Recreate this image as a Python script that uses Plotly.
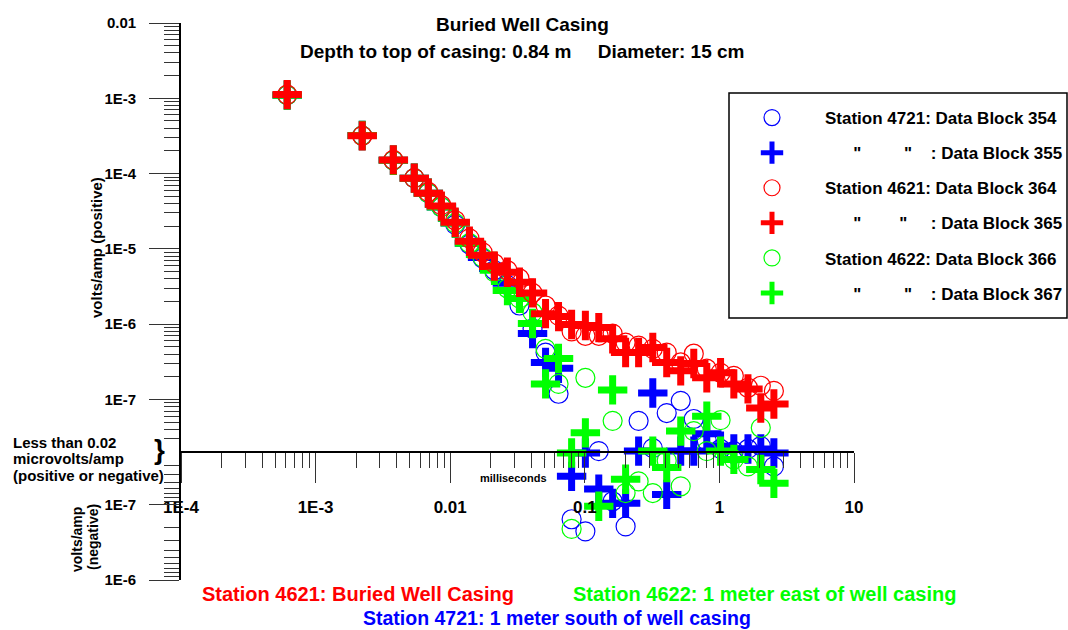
import math
import plotly.graph_objects as go

# ---------------- data (volts/amp, signed) ----------------
times_ms = [6.15e-4, 2.22e-3, 3.78e-3, 5.41e-3, 6.88e-3, 8.60e-3, 1.09e-2, 1.39e-2,
            1.74e-2, 2.13e-2, 2.66e-2, 3.27e-2, 4.09e-2, 5.11e-2, 6.38e-2, 7.98e-2,
            0.101, 0.127, 0.161, 0.201, 0.251, 0.320, 0.406, 0.516, 0.645, 0.806,
            1.02, 1.28, 1.63, 2.03, 2.54]

block354 = [1.1e-3, 3.2e-4, 1.5e-4, 8.7e-5, 5.5e-5, 3.6e-5, 2.1e-5, 1.15e-5, 7.5e-6,
            5.2e-6, 3.3e-6, 1.77e-6, 8.7e-7, 4.2e-7, 1.19e-7, -1.56e-7, -2.26e-7,
            2.06e-8, -9.0e-8, -1.94e-7, 5.2e-8, 2.26e-8, 6.6e-8, 9.6e-8, 5.5e-8,
            2.8e-8, 2.2e-8, 2.06e-8, 2.2e-8, 2.4e-8, -3.1e-8]
block355 = [1.1e-3, 3.2e-4, 1.5e-4, 8.7e-5, 5.5e-5, 3.6e-5, 2.2e-5, 1.19e-5, 7.7e-6,
            5.5e-6, 3.5e-6, 2.2e-6, 7.5e-7, 3.1e-7, 2.6e-7, -4.2e-8, -2.06e-8,
            -6.2e-8, -9.6e-8, -9.6e-8, 2.06e-8, 1.22e-7, -7.3e-8, 2.06e-8, 2.06e-8,
            3.5e-8, 2.4e-8, 2.2e-8, 2.2e-8, 2.2e-8, -2.06e-8]
block364 = [1.12e-3, 3.17e-4, 1.52e-4, 8.7e-5, 5.7e-5, 3.8e-5, 2.4e-5, 1.38e-5, 9.0e-6,
            6.4e-6, 5.2e-6, 4.05e-6, 2.6e-6, 1.77e-6, 1.3e-6, 8.0e-7, 7.0e-7, 7.0e-7,
            7.5e-7, 5.7e-7, 5.2e-7, 4.7e-7, 4.2e-7, 3.1e-7, 4.05e-7, 2.56e-7, 2.26e-7,
            2.06e-7, 1.43e-7, 1.52e-7, 1.3e-7]
block365 = [1.12e-3, 3.17e-4, 1.52e-4, 8.7e-5, 5.5e-5, 3.7e-5, 2.26e-5, 1.26e-5, 8.2e-6,
            5.9e-6, 4.9e-6, 3.6e-6, 2.6e-6, 1.38e-6, 1.26e-6, 9.9e-7, 9.6e-7, 9.0e-7,
            6.4e-7, 4.2e-7, 4.2e-7, 4.9e-7, 3.1e-7, 2.4e-7, 3.0e-7, 1.94e-7, 2.26e-7,
            1.61e-7, 1.38e-7, 7.7e-8, 8.7e-8]
block366 = [1.1e-3, 3.2e-4, 1.5e-4, 8.7e-5, 5.5e-5, 3.6e-5, 2.2e-5, 1.19e-5, 7.7e-6,
            4.9e-6, 3.0e-6, 2.2e-6, 1.43e-6, 4.7e-7, 1.61e-7, -2.1e-7, 1.94e-7, None,
            5.2e-8, -7.0e-8, -4.9e-8, -7.0e-8, -2.6e-8, -5.7e-8, 3.8e-8, 2.06e-8,
            5.3e-8, -2.5e-8, -3.1e-8, 4.2e-8, None]
block367 = [1.1e-3, 3.2e-4, 1.5e-4, 8.7e-5, 5.5e-5, 3.6e-5, 2.2e-5, 1.19e-5, 8.2e-6,
            5.2e-6, 2.8e-6, 2.2e-6, 1.02e-6, 1.61e-7, 3.5e-7, -2.06e-8, 3.6e-8,
            -1.05e-7, 1.34e-7, -4.6e-8, None, 2.06e-8, -3.2e-8, 3.8e-8, None, 6.0e-8,
            2.06e-8, -2.5e-8, None, -3.4e-8, -5.2e-8]

x_tick_vals = [1e-4, 1e-3, 1e-2, 1e-1, 1, 10]
x_tick_text = ["1E-4", "1E-3", "0.01", "0.1", "1", "10"]
y_tick_vals = [1e-2, 1e-3, 1e-4, 1e-5, 1e-6, 1e-7, -1e-7, -1e-6]
y_tick_text = ["0.01", "1E-3", "1E-4", "1E-5", "1E-6", "1E-7", "1E-7", "1E-6"]

THRESH = 2e-8   # "less than 0.02 microvolts/amp" band collapses onto the zero line

# ---------------- helpers ----------------
def sym(v):
    """signed log scale: decades above the 0.02 uV/A threshold"""
    if v is None:
        return None
    a = abs(v)
    d = math.log10(a / THRESH) if a > THRESH else 0.0
    return d if v >= 0 else -d

W, H = 1068, 630
ML, MR, MT, MB = 181, 214, 23, 50
PW, PH = W - ML - MR, H - MT - MB

def px(x):
    return (x - ML) / PW

def py(y):
    return (H - MB - y) / PH

FONT = "Liberation Sans, Arial, sans-serif"
BLUE, RED, GREEN = "#0000ff", "#ff0000", "#00ff00"
NB = "\u00a0"

y_lo, y_hi = sym(-1e-6), sym(1e-2)
zero_pos = (0 - y_lo) / (y_hi - y_lo)

# minor ticks
x_minor = [k * 10.0 ** n for n in range(-4, 1) for k in range(2, 10)]
y_minor = []
for n in range(-8, -2):
    for k in range(2, 10):
        v = k * 10.0 ** n
        if v > THRESH * 1.01:
            y_minor.append(sym(v))
for n in range(-8, -6):
    for k in range(2, 10):
        v = k * 10.0 ** n
        if v > THRESH * 1.01:
            y_minor.append(sym(-v))

fig = go.Figure()

ditto_a = NB * 6 + "\"" + NB * 9 + "\"" + NB * 4
ditto_b = NB * 6 + "\"" + NB * 8 + "\"" + NB * 5
series = [
    # (values, name, color, symbol, legendrank)  -- drawn bottom to top
    (block354, "Station 4721: Data Block 354", BLUE, "circle-open", 1),
    (block355, ditto_a + ": Data Block 355", BLUE, "cross", 2),
    (block366, "Station 4622: Data Block 366", GREEN, "circle-open", 5),
    (block367, ditto_a + ": Data Block 367", GREEN, "cross", 6),
    (block364, "Station 4621: Data Block 364", RED, "circle-open", 3),
    (block365, ditto_b + ": Data Block 365", RED, "cross", 4),
]

for vals, name, col, symb, rank in series:
    xs = [t for t, v in zip(times_ms, vals) if v is not None]
    ys = [sym(v) for v in vals if v is not None]
    if symb == "cross":
        marker = dict(symbol="cross-thin", size=21, color=col,
                      line=dict(color=col, width=7))
    else:
        marker = dict(symbol="circle-open", size=19, color=col,
                      line=dict(color=col, width=1.2))
    fig.add_trace(go.Scatter(x=xs, y=ys, mode="markers", name=name, marker=marker,
                             legendrank=rank, legendgroup=name, hoverinfo="skip"))

fig.update_layout(
    width=W, height=H,
    margin=dict(l=ML, r=MR, t=MT, b=MB, autoexpand=False),
    paper_bgcolor="white", plot_bgcolor="white",
    font=dict(family=FONT, color="black", weight="bold"),
    showlegend=True,
    legend=dict(x=px(719), y=py(100), xanchor="left", yanchor="top",
                bgcolor="rgba(0,0,0,0)", borderwidth=0,
                font=dict(family=FONT, size=17, color="black", weight="bold"),
                itemwidth=96, tracegroupgap=10, traceorder="grouped"),
    xaxis=dict(type="log", range=[-4, 1], anchor="free", position=zero_pos,
               showgrid=False, zeroline=False, showline=True, linecolor="black",
               linewidth=1.6, ticks="outside", ticklen=30, tickwidth=1.3,
               tickcolor="#333", tickmode="array", tickvals=x_tick_vals,
               ticktext=x_tick_text, ticklabelstandoff=10,
               tickfont=dict(family=FONT, size=17, color="black", weight="bold"),
               minor=dict(tickmode="array", tickvals=x_minor, ticks="outside",
                          ticklen=15, tickwidth=1.3, tickcolor="#333", showgrid=False)),
    yaxis=dict(range=[y_lo, y_hi], showgrid=False, zeroline=False, showline=True,
               linecolor="black", linewidth=1.6, ticks="outside", ticklen=30,
               tickwidth=1.3, tickcolor="#333", tickmode="array",
               tickvals=[sym(v) for v in y_tick_vals], ticktext=y_tick_text,
               ticklabelstandoff=10,
               tickfont=dict(family=FONT, size=15, color="black", weight="bold"),
               minor=dict(tickmode="array", tickvals=y_minor, ticks="outside",
                          ticklen=15, tickwidth=1.3, tickcolor="#333", showgrid=False)),
)

# legend frame
fig.add_shape(type="rect", xref="paper", yref="paper",
              x0=px(729), x1=px(1067), y0=py(318), y1=py(93),
              line=dict(color="black", width=1.5), fillcolor="rgba(0,0,0,0)", layer="below")

def ann(text, x, y, size, color="black", angle=0, xanchor="center", align="center"):
    fig.add_annotation(text=text, x=px(x), y=py(y), xref="paper", yref="paper",
                       showarrow=False, textangle=angle, xanchor=xanchor,
                       yanchor="middle", align=align,
                       font=dict(family=FONT, size=size, color=color, weight="bold"))

ann("Buried Well Casing", 522, 25, 19)
ann("Depth to top of casing: 0.84 m" + NB * 5 + "Diameter: 15 cm", 522, 51, 19)
ann("milliseconds", 513, 478, 11)
ann("volts/amp (positive)", 96, 248, 15, angle=-90)
ann("volts/amp", 77, 540, 14, angle=-90)
ann("(negative)", 93, 537, 14, angle=-90)
ann("Less than 0.02", 11, 442, 15, xanchor="left", align="left")
ann("microvolts/amp", 11, 458, 15, xanchor="left", align="left")
ann("(positive or negative)", 11, 475, 15, xanchor="left", align="left")
ann("}", 159, 449, 28)
ann("Station 4621: Buried Well Casing", 358, 594, 20, color=RED)
ann("Station 4622: 1 meter east of well casing", 764, 594, 20, color=GREEN)
ann("Station 4721: 1 meter south of well casing", 557, 618, 19.5, color=BLUE)

fig.write_html("out.html",
               config={"displayModeBar": False},
               post_script="document.body.style.margin='0px';"
                           "document.body.style.overflow='hidden';")
